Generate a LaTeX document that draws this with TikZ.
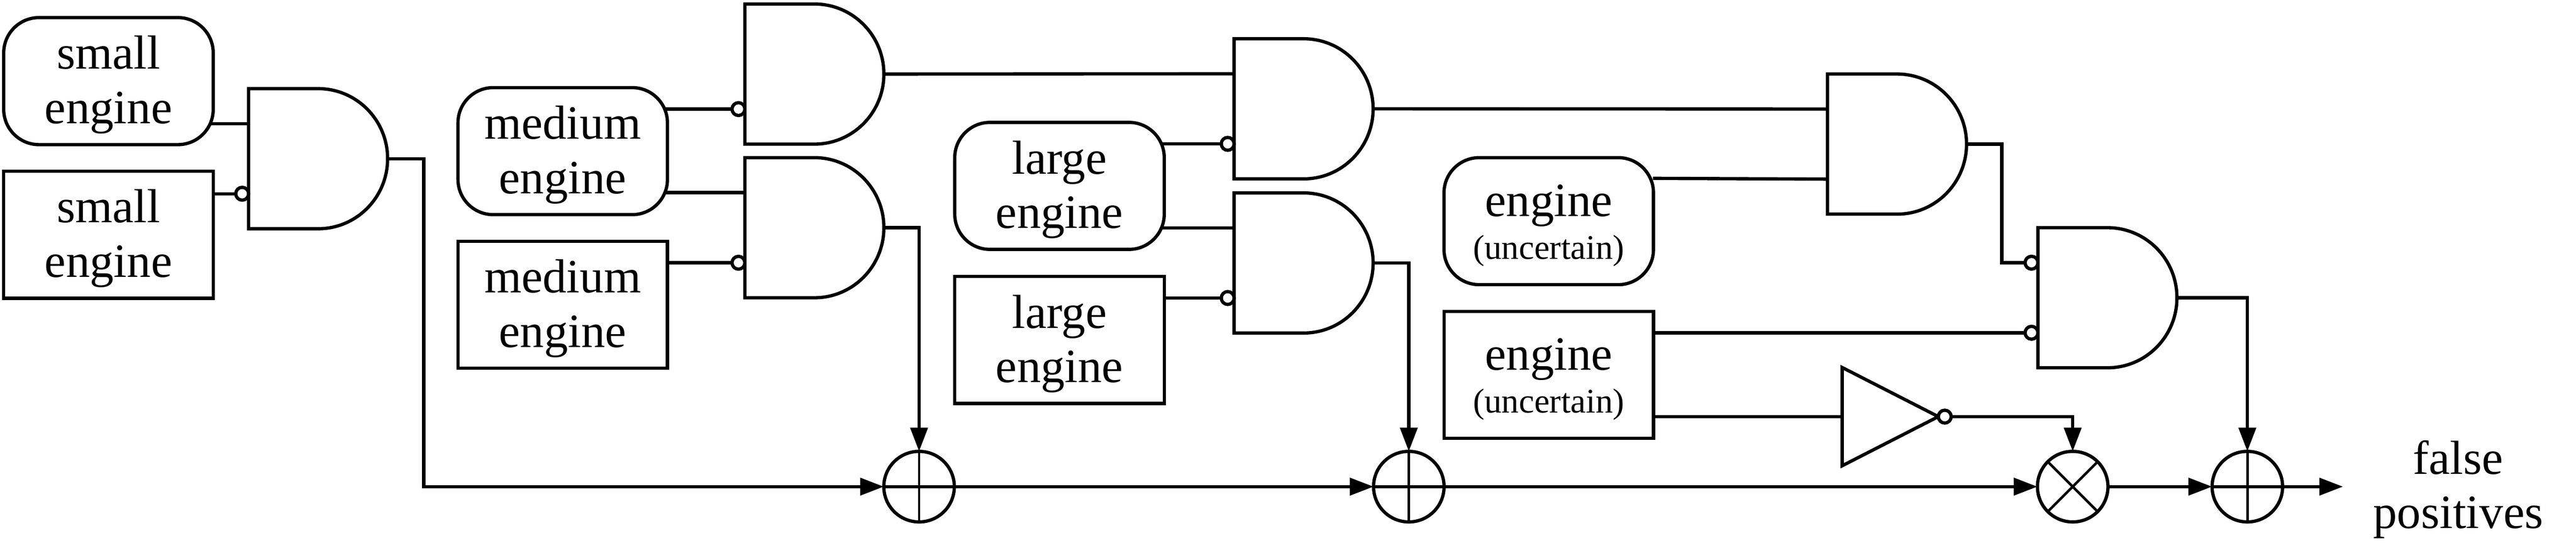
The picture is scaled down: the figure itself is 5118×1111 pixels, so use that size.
\documentclass[tikz,border=0pt]{standalone}
\usepackage{fontspec}
\setmainfont{Liberation Serif}
\usetikzlibrary{arrows.meta, calc}
\newcommand{\bigtext}{\fontsize{27}{30.7}\selectfont}
\newcommand{\smalltext}{\fontsize{19.5}{24}\selectfont}
\tikzset{
    my-and-gate/.style={
        rectangle, outer sep=0pt, inner sep=0pt, minimum width=2.76cm, minimum height=2.78cm,
        append after command={
            \pgfextra{
                \draw[line width=1.85pt] (\tikzlastnode.north) -- (\tikzlastnode.north west)
                    -- (\tikzlastnode.south west) -- (\tikzlastnode.south)
                    arc[start angle=-90, end angle=90, x radius=1.38cm, y radius=1.39cm];
            }
        }
    },
    my-not-gate/.style={
        rectangle, outer sep=0pt, inner sep=0pt, minimum width=1.91cm, minimum height=1.95cm,
        append after command={
            \pgfextra{
                \draw[line width=1.85pt] (\tikzlastnode.north west) -- (\tikzlastnode.east)
                    -- (\tikzlastnode.south west) -- cycle;
            }
        }
    },
    my-bubble/.style={
        circle, draw, fill=white, line width=1.85pt, outer sep=0pt, inner sep=0pt, minimum size=.255cm
    },
    my-label/.style={align=center, font=\bigtext, text height=47.8pt, text depth=0pt},
    my-square-box/.style={
        my-label, rectangle, draw, line width=1.85pt, outer sep=0pt, minimum width=4.16cm,
        minimum height=2.52cm
    },
    my-round-box/.style={my-square-box, rounded corners=.7cm},
    my-two-sizes/.style={text height=42.7pt},
    my-sum/.style={
        circle, draw, line width=1.85pt, outer sep=0pt, minimum size=1.4cm,
        path picture={
            \draw[line width=1.4pt] (path picture bounding box.north) -- (path picture bounding box.south);
            \draw[line width=1.85pt] (path picture bounding box.west) -- (path picture bounding box.east);
        }
    },
    my-product/.style={
        circle, draw, line width=1.85pt, outer sep=0pt, minimum size=1.4cm,
        path picture={
            \draw[line width=1.4pt] (path picture bounding box.north west) -- (path picture bounding box.south east);
            \draw[line width=1.4pt] (path picture bounding box.north east) -- (path picture bounding box.south west);
        }
    },
    my-wire/.style={line width=1.85pt},
    my-round-wire/.style={my-wire, shorten <=-1.6pt},
    my-arrow/.style={my-wire, -{Triangle[length=.47cm, width=.34cm]}},
}
% gate with its two input points: name, x, y
\newcommand{\andgate}[3]{
    \node[my-and-gate] (#1) at (#2,#3) {};
    \coordinate (#1IN1) at ($(#1.north west)!.25!(#1.south west)$);
    \coordinate (#1IN2) at ($(#1.north west)!.75!(#1.south west)$);
}

\begin{document}
\begin{tikzpicture}[x=.01cm, y=-.01cm]

        \useasboundingbox (0,0) rectangle (5118,1111);

        % INPUTS
        \node[my-round-box]  (SMALLR)  at (215.5,161)  {small\\engine};
        \node[my-square-box] (SMALLS)  at (215.5,466)  {small\\engine};
        \node[my-round-box]  (MEDIUMR) at (1118,300)   {medium\\engine};
        \node[my-square-box] (MEDIUMS) at (1118,605)   {medium\\engine};
        \node[my-round-box]  (LARGER)  at (2105,369)   {large\\engine};
        \node[my-square-box] (LARGES)  at (2105,675)   {large\\engine};
        \node[my-round-box, my-two-sizes]  (ENGINER) at (3077,439) {engine\\[-6.5pt]{\smalltext (uncertain)}};
        \node[my-square-box, my-two-sizes] (ENGINES) at (3077,744) {engine\\[-6.5pt]{\smalltext (uncertain)}};

        % GATES
        \andgate{ANDA}{632}{315}
        \andgate{ANDB}{1618}{147}
        \andgate{ANDC}{1618}{452}
        \andgate{ANDD}{2590}{216}
        \andgate{ANDE}{2590}{522}
        \andgate{ANDF}{3769}{286}
        \andgate{ANDG}{4187}{591}
        \node[my-not-gate] (NOTA) at (3755.5,827) {};

        % BUBBLES
        \node[my-bubble, anchor=east] (BUBA)  at (ANDAIN2) {};
        \node[my-bubble, anchor=east] (BUBB)  at (ANDBIN2) {};
        \node[my-bubble, anchor=east] (BUBC)  at (ANDCIN2) {};
        \node[my-bubble, anchor=east] (BUBD)  at (ANDDIN2) {};
        \node[my-bubble, anchor=east] (BUBE)  at (ANDEIN2) {};
        \node[my-bubble, anchor=east] (BUBG1) at (ANDGIN1) {};
        \node[my-bubble, anchor=east] (BUBG2) at (ANDGIN2) {};
        \node[my-bubble, anchor=west] (BUBN)  at (NOTA.east) {};

        % SUMS AND PRODUCT
        \node[my-sum]     (SUMA) at (1826,966) {};
        \node[my-sum]     (SUMB) at (2799,966) {};
        \node[my-product] (PROD) at (4118,966) {};
        \node[my-sum]     (SUMC) at (4465,966) {};

        % OUTPUT
        \node[my-label] (FALSEPOS) at (4884,965) {false\\positives};
        \coordinate (FALSEIN) at (4655,966);

        % INPUT CONNECTIONS
        \coordinate (ENGINEROUT) at (3284,354);
        \draw[my-round-wire] (ANDAIN1 -| SMALLR.east)  -- (ANDAIN1);
        \draw[my-wire]       (BUBA.west -| SMALLS.east)  -- (BUBA.west);
        \draw[my-round-wire] (BUBB.west -| MEDIUMR.east) -- (BUBB.west);
        \draw[my-round-wire] (ANDCIN1 -| MEDIUMR.east) -- (ANDCIN1);
        \draw[my-wire]       (BUBC.west -| MEDIUMS.east) -- (BUBC.west);
        \draw[my-round-wire] (BUBD.west -| LARGER.east)  -- (BUBD.west);
        \draw[my-round-wire] (ANDEIN1 -| LARGER.east)  -- (ANDEIN1);
        \draw[my-wire]       (BUBE.west -| LARGES.east)  -- (BUBE.west);
        \draw[my-wire]       (ENGINEROUT)              -- (ANDFIN2);
        \draw[my-wire]       (BUBG2.west -| ENGINES.east) -- (BUBG2.west);
        \draw[my-wire]       (NOTA.west -| ENGINES.east) -- (NOTA.west);

        % GATE CONNECTIONS
        \draw[my-wire] (ANDB.east) -- (ANDDIN1);
        \draw[my-wire] (ANDD.east) -- (ANDFIN1);
        \draw[my-wire] (ANDF.east) -- ++(70,0) |- (BUBG1.west);

        % OUTPUT CONNECTIONS
        \draw[my-arrow] (ANDA.east) -- ++(72,0) |- (SUMA.west);
        \draw[my-arrow] (ANDC.east) -| (SUMA.north);
        \draw[my-arrow] (ANDE.east) -| (SUMB.north);
        \draw[my-arrow] (BUBN.east) -| (PROD.north);
        \draw[my-arrow] (ANDG.east) -| (SUMC.north);
        \draw[my-arrow] (SUMA.east) -- (SUMB.west);
        \draw[my-arrow] (SUMB.east) -- (PROD.west);
        \draw[my-arrow] (PROD.east) -- (SUMC.west);
        \draw[my-arrow] (SUMC.east) -- (FALSEIN);

    \end{tikzpicture}
\end{document}
